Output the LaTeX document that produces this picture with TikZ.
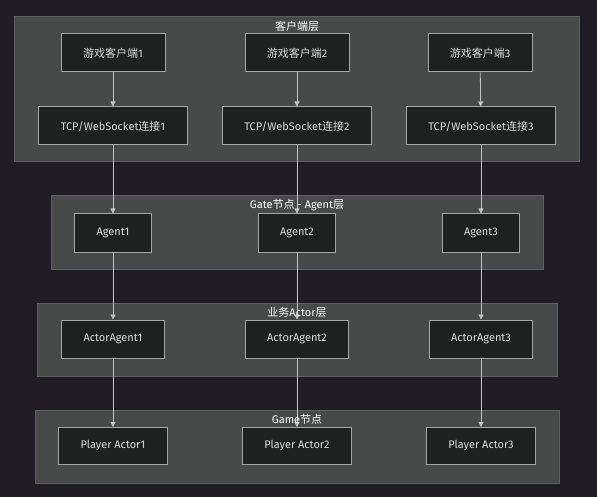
\documentclass[tikz,border=0pt]{standalone}
\usepackage{fontspec}
\setmainfont{Fira Sans}
\newfontfamily\cjk{Noto Sans CJK SC}
\usetikzlibrary{arrows.meta}
\definecolor{bgc}{HTML}{201E24}
\definecolor{clfill}{HTML}{484A49}
\definecolor{cldraw}{HTML}{5E5F5F}
\definecolor{ndfill}{HTML}{1F2120}
\definecolor{nddraw}{HTML}{A6A6A6}
\definecolor{txt}{HTML}{DCDCDC}
\definecolor{edgec}{HTML}{C4C4C4}
\tikzset{
  box/.style={draw=nddraw, line width=1pt, fill=ndfill, text=txt, minimum height=38pt, inner sep=0pt, font=\fontsize{11}{13}\selectfont},
  cluster/.style={draw=cldraw, line width=1pt, fill=clfill},
  ctitle/.style={text=white, font=\fontsize{11}{13}\selectfont, inner sep=0pt},
  flow/.style={draw=edgec, line width=0.8pt, -{Triangle[width=5pt,length=5pt]}}
}
\begin{document}
\begin{tikzpicture}[x=1pt,y=-1pt]
\fill[bgc] (0,0) rectangle (597,497);
\useasboundingbox (0,0) rectangle (597,497);
% clusters
\draw[cluster] (14,17) rectangle (579,162);
\draw[cluster] (51,196) rectangle (543,269);
\draw[cluster] (37,303) rectangle (557,376);
\draw[cluster] (35,410) rectangle (559,483);
% nodes
\node[box, minimum width=104pt] (c1) at (113,53) {{\cjk 游戏客户端}1};
\node[box, minimum width=104pt] (c2) at (297,53) {{\cjk 游戏客户端}2};
\node[box, minimum width=104pt] (c3) at (480,53) {{\cjk 游戏客户端}3};
\node[box, minimum width=149pt] (t1) at (113,126) {TCP/WebSocket{\cjk 连接}1};
\node[box, minimum width=149pt] (t2) at (297,126) {TCP/WebSocket{\cjk 连接}2};
\node[box, minimum width=149pt] (t3) at (481,126) {TCP/WebSocket{\cjk 连接}3};
\node[box, minimum width=77pt] (a1) at (113,233) {Agent1};
\node[box, minimum width=77pt] (a2) at (297,233) {Agent2};
\node[box, minimum width=77pt] (a3) at (481,233) {Agent3};
\node[box, minimum width=103pt] (aa1) at (113,339) {ActorAgent1};
\node[box, minimum width=103pt] (aa2) at (297,339) {ActorAgent2};
\node[box, minimum width=103pt] (aa3) at (481,339) {ActorAgent3};
\node[box, minimum width=109pt, minimum height=37pt] (p1) at (113,446) {Player Actor1};
\node[box, minimum width=109pt, minimum height=37pt] (p2) at (297,446) {Player Actor2};
\node[box, minimum width=109pt, minimum height=37pt] (p3) at (481,446) {Player Actor3};
% edges
\foreach \i in {1,2,3}{
  \draw[flow] (c\i) -- (t\i);
  \draw[flow] (t\i) -- (a\i);
  \draw[flow] (a\i) -- (aa\i);
  \draw[flow] (aa\i) -- (p\i);
}
% cluster titles
\node[ctitle] (ti1) at (297,26) {{\cjk 客户端层}};
\node[ctitle] (ti2) at (297,205) {Gate{\cjk 节点} - Agent{\cjk 层}};
\node[ctitle] (ti3) at (297,312) {{\cjk 业务}Actor{\cjk 层}};
\node[ctitle] (ti4) at (297,419) {Game{\cjk 节点}};
\end{tikzpicture}
\end{document}
